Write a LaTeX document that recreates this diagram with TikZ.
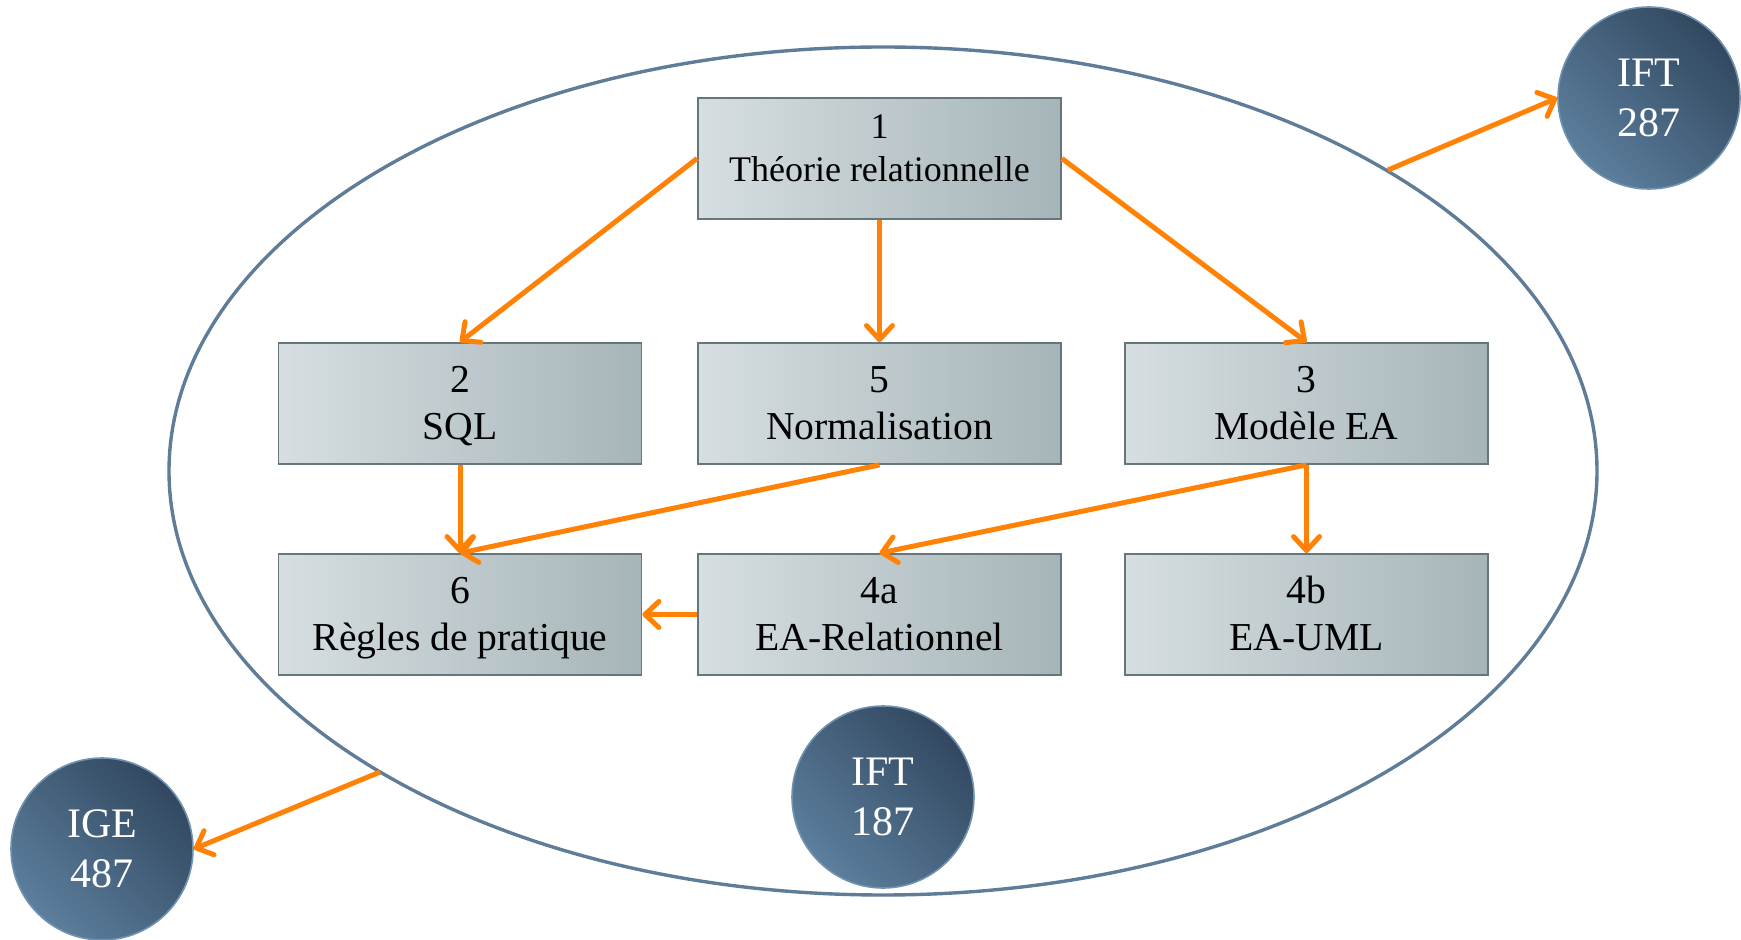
\documentclass[tikz,border=0pt]{standalone}
\usepackage{fontspec}
\setmainfont{Liberation Serif}
\usetikzlibrary{arrows.meta,shapes.geometric}
\definecolor{arr}{HTML}{FF8207}
\definecolor{boxL}{HTML}{D6DEE1}
\definecolor{boxR}{HTML}{A6B5B9}
\definecolor{boxB}{HTML}{66777B}
\definecolor{circL}{HTML}{5C7F9D}
\definecolor{circD}{HTML}{324860}
\definecolor{circB}{HTML}{7293B0}
\definecolor{ellC}{HTML}{5F7C98}
\tikzset{
  topic/.style={draw=boxB, line width=0.9pt, left color=boxL, right color=boxR,
    minimum width=181.5pt, minimum height=60.5pt, inner sep=0pt, align=center,
    font=\fontsize{19.8}{23.5}\selectfont, text height=43pt, text depth=7pt},
  topicA/.style={draw=boxB, line width=0.9pt, left color=boxL, right color=boxR,
    minimum width=181.5pt, minimum height=60.5pt, inner sep=0pt},
  plaintext/.style={inner sep=0pt, align=center, font=\fontsize{18}{21.5}\selectfont},
  course/.style={circle, draw=circB, line width=0.8pt, top color=circD, bottom color=circL,
    shading angle=-45, minimum size=91pt, inner sep=0pt, align=center, text=white,
    font=\fontsize{21}{25}\selectfont},
  link/.style={draw=arr, line width=2.5pt, -{Straight Barb[length=7pt,width=13pt,round]}},
}
\begin{document}
\begin{tikzpicture}[x=0.5pt,y=-0.5pt]
\useasboundingbox (0,0) rectangle (1741,940);
\draw[ellC, line width=1.7pt] (883,471) ellipse [x radius=714, y radius=424];
\node[topicA] (b1) at (879.5,158.5) {};
\node[plaintext] (b1t) at (879.5,148.5) {1\\Théorie relationnelle};
\node[topic] (b2) at (460,403.5) {2\\SQL};
\node[topic] (b5) at (879.5,403.5) {5\\Normalisation};
\node[topic] (b3) at (1306.5,403.5) {3\\Modèle EA};
\node[topic] (b6) at (460,614.5) {6\\Règles de pratique};
\node[topic] (b4a) at (879.5,614.5) {4a\\EA-Relationnel};
\node[topic] (b4b) at (1306.5,614.5) {4b\\EA-UML};
\node[course] (c287) at (1649,98) {IFT\\287};
\node[course] (c487) at (102,849) {IGE\\487};
\node[course] (c187) at (883,797) {IFT\\187};
\coordinate (eNE) at (1388,170);
\coordinate (eSW) at (380,772);
\draw[link] (b1.west) -- (b2.north);
\draw[link] (b1.south) -- (b5.north);
\draw[link] (b1.east) -- (b3.north);
\draw[link] (b2.south) -- (b6.north);
\draw[link] (b5.south) -- (b6.north);
\draw[link] (b3.south) -- (b4a.north);
\draw[link] (b3.south) -- (b4b.north);
\draw[link] (b4a.west) -- (b6.east);
\draw[link] (eNE) -- (c287.west);
\draw[link] (eSW) -- (c487.east);
\end{tikzpicture}
\end{document}
